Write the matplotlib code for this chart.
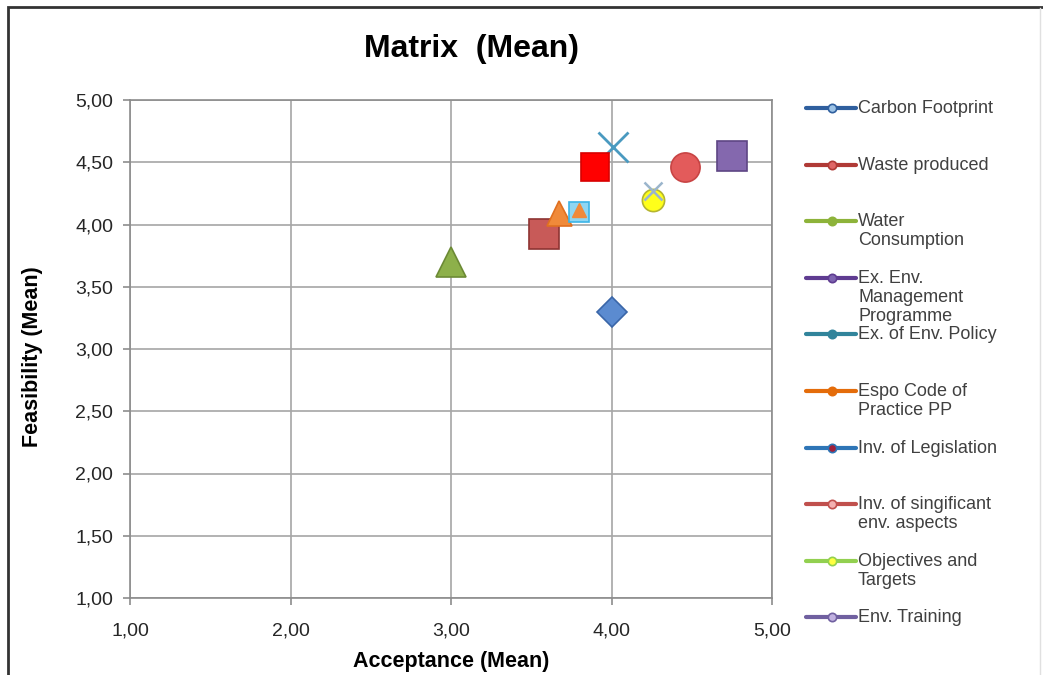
import matplotlib.pyplot as plt
from matplotlib.lines import Line2D
from matplotlib.patches import Rectangle

plt.rcParams['font.family'] = ['Liberation Sans', 'DejaVu Sans']

# series shown in the legend (one point each)
names = ['Carbon Footprint', 'Waste produced', 'Water\nConsumption',
         'Ex. Env.\nManagement\nProgramme', 'Ex. of Env. Policy',
         'Espo Code of\nPractice PP', 'Inv. of Legislation',
         'Inv. of singificant\nenv. aspects', 'Objectives and\nTargets',
         'Env. Training']
acceptance = [4.00, 3.58, 3.00, 4.75, 4.01, 3.67, 3.90, 4.46, 4.26, 3.80]
feasibility = [3.30, 3.92, 3.70, 4.55, 4.62, 4.09, 4.46, 4.46, 4.20, 4.10]
markers = ['D', 's', '^', 's', 'x', '^', 's', 'o', 'o', 's']
sizes = [15, 21, 21, 21, 21, 18, 20, 21, 16, 14]
faces = ['#5b8bd0', '#c85a58', '#8db04a', '#8468ae', '#4a9ac0',
         '#f08a3a', '#ff0000', '#e35b5b', '#ffff1a', '#8fd6f2']
edges = ['#3a66a8', '#8e3432', '#6c8a35', '#5e4684', '#4a9ac0',
         '#e07020', '#d80000', '#c84444', '#b5b530', '#3cb4e6']

# legend line / marker colours
leg_lines = ['#2f5f9e', '#b03a36', '#8db33a', '#5f3c91', '#31849b',
             '#e46c0a', '#2e75b6', '#c0504d', '#92d050', '#7060a0']
leg_marks = ['#9dc3e6', '#e06666', '#8db33a', '#7e64b0', '#31849b',
             '#e46c0a', '#a0203a', '#f4b0b0', '#ffff40', '#c0b0e0']

# extra overlapping points visible in the picture
extra_x = [3.80, 4.26]
extra_y = [4.12, 4.27]
extra_marker = ['^', 'x']
extra_size = [10, 13]
extra_color = ['#f08a3a', '#9bb5cc']

xticks = [1, 2, 3, 4, 5]
xtick_labels = ['1,00', '2,00', '3,00', '4,00', '5,00']
yticks = [1.0, 1.5, 2.0, 2.5, 3.0, 3.5, 4.0, 4.5, 5.0]
ytick_labels = ['1,00', '1,50', '2,00', '2,50', '3,00', '3,50', '4,00', '4,50', '5,00']

fig = plt.figure(figsize=(10.43, 6.75), dpi=100)
ax = fig.add_axes([130 / 1043, 1 - 598 / 675, 642 / 1043, 498 / 675])

ax.set_xlim(1, 5)
ax.set_ylim(1, 5)
ax.set_xticks(xticks)
ax.set_xticklabels(xtick_labels)
ax.set_yticks(yticks)
ax.set_yticklabels(ytick_labels)
ax.grid(True, color='#a6a6a6', lw=1.2)
ax.set_axisbelow(True)
for s in ax.spines.values():
    s.set_color('#8c8c8c')
    s.set_linewidth(1.2)
ax.tick_params(colors='#8c8c8c', labelcolor='#262626', labelsize=14,
               length=5, width=1.2)
ax.tick_params(axis='y', pad=7)
ax.tick_params(axis='x', pad=13)

draw_order = [0, 1, 2, 3, 6, 4, 9, 5, 7, 8]
for i in draw_order:
    if markers[i] == 'x':
        ax.plot(acceptance[i], feasibility[i], marker='x', ms=sizes[i],
                mew=2, color=faces[i], ls='none', zorder=3 + i)
    else:
        ax.plot(acceptance[i], feasibility[i], marker=markers[i], ms=sizes[i],
                mfc=faces[i], mec=edges[i], mew=1.2, ls='none', zorder=3 + i)

for x, y, m, s, c in zip(extra_x, extra_y, extra_marker, extra_size, extra_color):
    if m == 'x':
        ax.plot(x, y, marker=m, ms=s, mew=1.8, color=c, ls='none', zorder=15)
    else:
        ax.plot(x, y, marker=m, ms=s, mfc=c, mec=c, ls='none', zorder=15)

fig.text(472 / 1043, 1 - 49 / 675, 'Matrix  (Mean)', ha='center', va='center',
         fontsize=23, fontweight='bold')
fig.text(451 / 1043, 1 - 661 / 675, 'Acceptance (Mean)', ha='center', va='center',
         fontsize=15.5, fontweight='bold')
fig.text(33 / 1043, 1 - 357 / 675, 'Feasibility (Mean)', ha='center', va='center',
         fontsize=15.5, fontweight='bold', rotation=90)

# legend drawn by hand, Excel-style spacing
for k, name in enumerate(names):
    ypx = 108 + 56.6 * k
    yf = 1 - ypx / 675
    fig.add_artist(Line2D([806 / 1043, 856 / 1043], [yf, yf], color=leg_lines[k],
                          lw=3, solid_capstyle='round'))
    fig.add_artist(Line2D([832 / 1043], [yf], marker='o', ms=6, mfc=leg_marks[k],
                          mec=leg_lines[k], mew=1.2))
    fig.text(858 / 1043, 1 - (ypx - 8) / 675, name, ha='left', va='top',
             fontsize=13, color='#404040', linespacing=1.17)

fig.add_artist(Rectangle((8 / 1043, -0.05), 1.1, 1 - 7 / 675 + 0.05,
                         fill=False, ec='#333333', lw=2, transform=fig.transFigure))
fig.add_artist(Line2D([1040 / 1043, 1040 / 1043], [0, 1 - 8 / 675],
                      color='#e0e0e0', lw=1))

fig.savefig('out.png', dpi=100)
